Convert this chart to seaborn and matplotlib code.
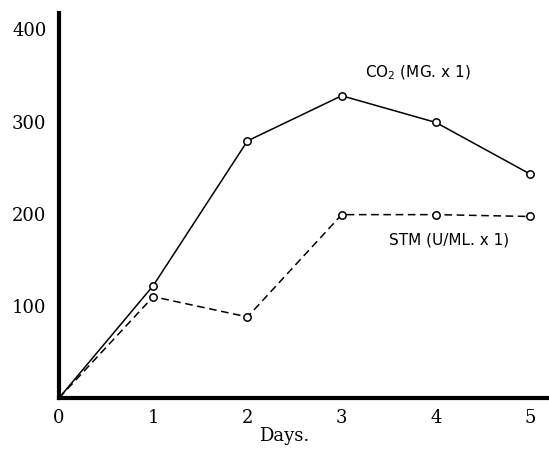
import numpy as np
import pandas as pd
import seaborn as sns
import matplotlib.pyplot as plt

# values
days = [0, 1, 2, 3, 4, 5]
co2 = [0, 122, 279, 328, 299, 243]
stm = [0, 110, 88, 199, 199, 197]
series_names = ['CO2', 'STM']
y_ticks = [100, 200, 300, 400]
x_ticks = [0, 1, 2, 3, 4, 5]

df = pd.DataFrame({
    'Days': days * 2,
    'value': co2 + stm,
    'series': [series_names[0]] * len(days) + [series_names[1]] * len(days),
})

sns.set_style('white')
plt.rcParams['font.family'] = ['DejaVu Serif']
plt.rcParams['text.color'] = 'black'
plt.rcParams['xtick.color'] = 'black'
plt.rcParams['ytick.color'] = 'black'
plt.rcParams['axes.labelcolor'] = 'black'

fig = plt.figure(figsize=(5.49, 4.57), dpi=100)
ax = fig.add_axes([0.1075, 0.129, 0.8925, 0.843])

sns.lineplot(data=df, x='Days', y='value', style='series',
             dashes={'CO2': '', 'STM': (5, 3)}, color='black', linewidth=1.1,
             legend=False, ax=ax)

# open circle markers (not on the origin)
pts = df[df['Days'] > 0]
sns.scatterplot(data=pts, x='Days', y='value', marker='o', s=28,
                facecolor='white', edgecolor='black', linewidth=1.1,
                zorder=5, legend=False, ax=ax)

ax.set_xlim(0, 5.2)
ax.set_ylim(0, 418)
ax.set_xticks(x_ticks)
ax.set_yticks(y_ticks)
ax.tick_params(axis='y', direction='in', length=8, width=1.5, labelsize=13, pad=9)
ax.tick_params(axis='x', direction='in', length=5, width=1.2, labelsize=13, pad=8)

for side in ['top', 'right']:
    ax.spines[side].set_visible(False)
for side in ['left', 'bottom']:
    ax.spines[side].set_linewidth(3)
    ax.spines[side].set_color('black')

ax.set_xlabel('Days.', fontsize=13)
ax.xaxis.set_label_coords(0.46, -0.075)
ax.set_ylabel('')

ax.text(3.25, 353, r'CO$_2$ (MG. x 1)', fontsize=11, family='DejaVu Sans',
        ha='left', va='center')
ax.text(3.5, 172, 'STM (U/ML. x 1)', fontsize=11, family='DejaVu Sans',
        ha='left', va='center')

fig.savefig('out.png', dpi=100)
